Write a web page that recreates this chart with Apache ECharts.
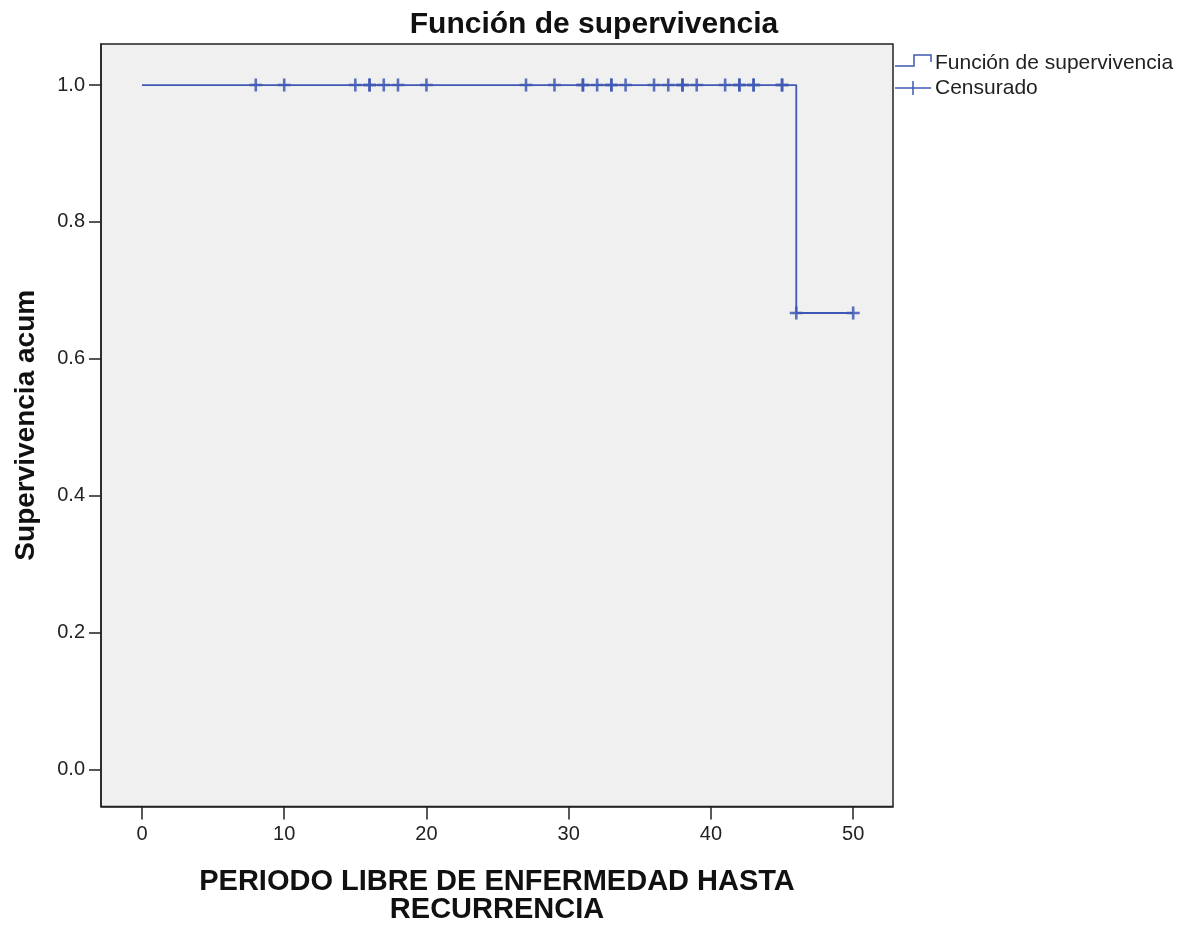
<!DOCTYPE html>
<html><head><meta charset="utf-8">
<script src="https://cdn.jsdelivr.net/npm/echarts@6/dist/echarts.min.js"></script>
<style>html,body{margin:0;padding:0;background:#fff}#c{width:1191px;height:929px}</style>
</head><body><div id="c"></div>
<script>
const chartTitle = 'Función de supervivencia';
const xAxisTitle = 'PERIODO LIBRE DE ENFERMEDAD HASTA\nRECURRENCIA';
const yAxisTitle = 'Supervivencia acum';
const legendNames = ['Función de supervivencia', 'Censurado'];
const xTicks = [0, 10, 20, 30, 40, 50];
const yTicks = [0, 0.2, 0.4, 0.6, 0.8, 1.0];
// survival step function: [time, cumulative survival]
const survivalTimes = [0, 46, 50];
const survivalValues = [1.0, 0.667, 0.667];
// censored observations
const censoredTimes = [8,10,15,16,16,17,18,20,27,29,31,31,32,33,33,34,36,37,38,38,39,41,42,42,43,43,45,45,46,50];
const censoredValues = [1,1,1,1,1,1,1,1,1,1,1,1,1,1,1,1,1,1,1,1,1,1,1,1,1,1,1,1,0.667,0.667];

const blue = '#3f58b3';
const plus = 'path://M5.2,0 L7.8,0 L7.8,5.2 L13,5.2 L13,7.8 L7.8,7.8 L7.8,13 L5.2,13 L5.2,7.8 L0,7.8 L0,5.2 L5.2,5.2 Z';
const chart = echarts.init(document.getElementById('c'));
const font = 'Liberation Sans, Arial, sans-serif';
chart.setOption({
  animation: false,
  title: { text: chartTitle, left: 589, textAlign: 'center', top: 5,
    textStyle: { fontFamily: font, fontWeight: 'bold', fontSize: 30, color: '#111' } },
  grid: { left: 101, right: 298, top: 44, bottom: 122, show: true,
    backgroundColor: '#f0f0f0', borderColor: '#222', borderWidth: 1.5 },
  xAxis: { type: 'value', min: -2.88, max: 52.8,
    name: xAxisTitle, nameLocation: 'middle', nameGap: 61,
    nameTextStyle: { fontFamily: font, fontWeight: 'bold', fontSize: 29, color: '#111', lineHeight: 28 },
    axisLine: { show: true, onZero: false, lineStyle: { color: '#222', width: 1.5 } },
    axisTick: { show: true, length: 13, lineStyle: { color: '#222', width: 1.5 }, customValues: xTicks },
    axisLabel: { customValues: xTicks, fontFamily: font, fontSize: 20, color: '#222', margin: 18 },
    splitLine: { show: false } },
  yAxis: { type: 'value', min: -0.054, max: 1.06,
    name: yAxisTitle, nameLocation: 'middle', nameGap: 61, nameRotate: 90,
    nameTextStyle: { fontFamily: font, fontWeight: 'bold', fontSize: 28, color: '#111' },
    axisLine: { show: true, onZero: false, lineStyle: { color: '#222', width: 1.5 } },
    axisTick: { show: true, length: 12, lineStyle: { color: '#222', width: 1.5 }, customValues: yTicks },
    axisLabel: { customValues: yTicks, fontFamily: font, fontSize: 20, color: '#222', margin: 16,
      formatter: v => v.toFixed(1) },
    splitLine: { show: false } },
  series: [
    { name: legendNames[0], type: 'line', step: 'end', showSymbol: false,
      data: survivalTimes.map((t, i) => [t, survivalValues[i]]),
      lineStyle: { color: blue, width: 1.8 } },
    { name: legendNames[1], type: 'scatter', symbol: plus, symbolSize: 13,
      data: censoredTimes.map((t, i) => [t, censoredValues[i]]),
      itemStyle: { color: blue, opacity: 0.85 } }
  ],
  graphic: [
    { type: 'polyline', shape: { points: [[895, 66], [914, 66], [914, 55], [931, 55], [931, 62]] },
      style: { stroke: blue, lineWidth: 1.5, fill: null } },
    { type: 'text', left: 935, top: 53, style: { text: legendNames[0], font: '21px ' + font, fill: '#222' } },
    { type: 'line', shape: { x1: 895, y1: 88, x2: 931, y2: 88 }, style: { stroke: blue, lineWidth: 1.5 } },
    { type: 'line', shape: { x1: 913, y1: 81, x2: 913, y2: 95 }, style: { stroke: blue, lineWidth: 1.5 } },
    { type: 'text', left: 935, top: 78, style: { text: legendNames[1], font: '21px ' + font, fill: '#222' } }
  ]
});
</script></body></html>
